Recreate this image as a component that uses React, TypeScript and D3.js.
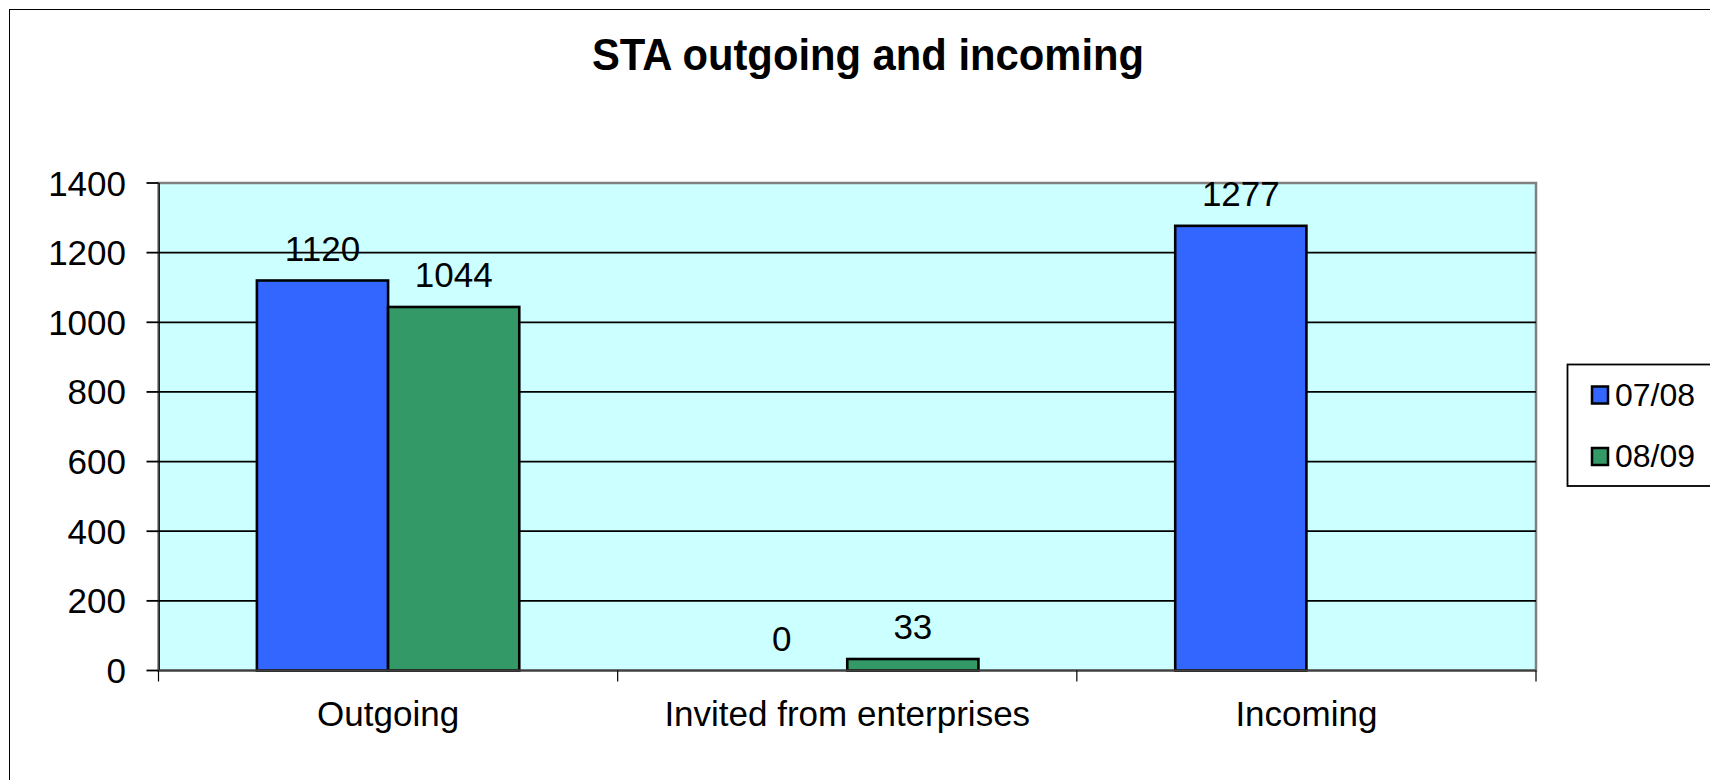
import React from "react";
import * as d3 from "d3";

const title = "STA outgoing and incoming";
const categories = ["Outgoing", "Invited from enterprises", "Incoming"];
const seriesNames = ["07/08", "08/09"];
const values0708: (number | null)[] = [1120, 0, 1277];
const values0809: (number | null)[] = [1044, 33, null];
const yTicks = [0, 200, 400, 600, 800, 1000, 1200, 1400];

const W = 1710;
const H = 780;
const plot = { left: 158.5, right: 1536, top: 183, bottom: 670.5 };
const colors = ["#3366FF", "#339966"];
const FONT = "'Liberation Sans', Arial, sans-serif";

export default function App() {
  const series = [values0708, values0809];
  const x = d3.scaleBand<string>().domain(categories).range([plot.left, plot.right]).padding(0);
  const bw = x.bandwidth();
  const barW = bw / 3.5;
  const gap = (bw - 2 * barW) / 2;
  const xs = d3.scaleBand<string>().domain(seriesNames).range([gap, bw - gap]).padding(0);
  const y = d3.scaleLinear().domain([0, 1400]).range([plot.bottom, plot.top]);
  const xTickPos = [...categories.map((c) => x(c) as number), plot.right];

  return (
    <svg width={W} height={H} style={{ position: "absolute", left: 0, top: 0, background: "#fff" }}>
      <rect x={9.5} y={9.5} width={W + 20} height={H + 20} fill="#fff" stroke="#000" strokeWidth={1} />
      <text
        x={868}
        y={70}
        textAnchor="middle"
        fontFamily={FONT}
        fontWeight="bold"
        fontSize={44}
        textLength={552}
        lengthAdjust="spacingAndGlyphs"
      >
        {title}
      </text>
      <rect
        x={plot.left}
        y={plot.top}
        width={plot.right - plot.left}
        height={plot.bottom - plot.top}
        fill="#CCFFFF"
        stroke="#808080"
        strokeWidth={2.5}
      />
      {yTicks.slice(1, -1).map((t) => (
        <line key={"g" + t} x1={plot.left} x2={plot.right} y1={y(t)} y2={y(t)} stroke="#000" strokeWidth={1.8} />
      ))}
      {/* y axis */}
      <line x1={plot.left + 0.7} x2={plot.left + 0.7} y1={plot.top} y2={plot.bottom} stroke="#000" strokeWidth={1.2} />
      {yTicks.map((t) => (
        <g key={"t" + t}>
          <line x1={plot.left - 12} x2={plot.left} y1={y(t)} y2={y(t)} stroke="#000" strokeWidth={1.8} />
          <text
            x={126}
            y={y(t)}
            textAnchor="end"
            dominantBaseline="central"
            fontFamily={FONT}
            fontSize={35}
            fill="#000"
          >
            {t}
          </text>
        </g>
      ))}
      {/* bars */}
      {series.map((vals, si) =>
        vals.map((v, ci) => {
          if (v === null) return null;
          const bx = (x(categories[ci]) as number) + (xs(seriesNames[si]) as number);
          const by = y(v);
          return (
            <g key={`b${si}-${ci}`}>
              {v > 0 && (
                <rect
                  x={bx}
                  y={by}
                  width={barW}
                  height={plot.bottom - by}
                  fill={colors[si]}
                  stroke="#000"
                  strokeWidth={2.6}
                />
              )}
              <text
                x={bx + barW / 2}
                y={by - 20}
                textAnchor="middle"
                fontFamily={FONT}
                fontSize={35}
                fill="#000"
              >
                {v}
              </text>
            </g>
          );
        })
      )}
      {/* x axis */}
      <line x1={plot.left} x2={plot.right} y1={plot.bottom} y2={plot.bottom} stroke="#404040" strokeWidth={1.8} />
      {xTickPos.map((p, i) => (
        <line key={"xt" + i} x1={p} x2={p} y1={plot.bottom} y2={plot.bottom + 11} stroke="#000" strokeWidth={1.2} />
      ))}
      {categories.map((c) => (
        <text
          key={c}
          x={(x(c) as number) + bw / 2}
          y={726}
          textAnchor="middle"
          fontFamily={FONT}
          fontSize={35}
          fill="#000"
        >
          {c}
        </text>
      ))}
      {/* legend */}
      <rect x={1567.5} y={364.5} width={200} height={121.5} fill="#fff" stroke="#000" strokeWidth={1.8} />
      {seriesNames.map((s, i) => {
        const cy = 395 + i * 61.5;
        return (
          <g key={s}>
            <rect x={1592} y={cy - 8.5} width={16} height={17} fill={colors[i]} stroke="#000" strokeWidth={2.5} />
            <text x={1615} y={cy + 10.5} fontFamily={FONT} fontSize={32} fill="#000">
              {s}
            </text>
          </g>
        );
      })}
    </svg>
  );
}
